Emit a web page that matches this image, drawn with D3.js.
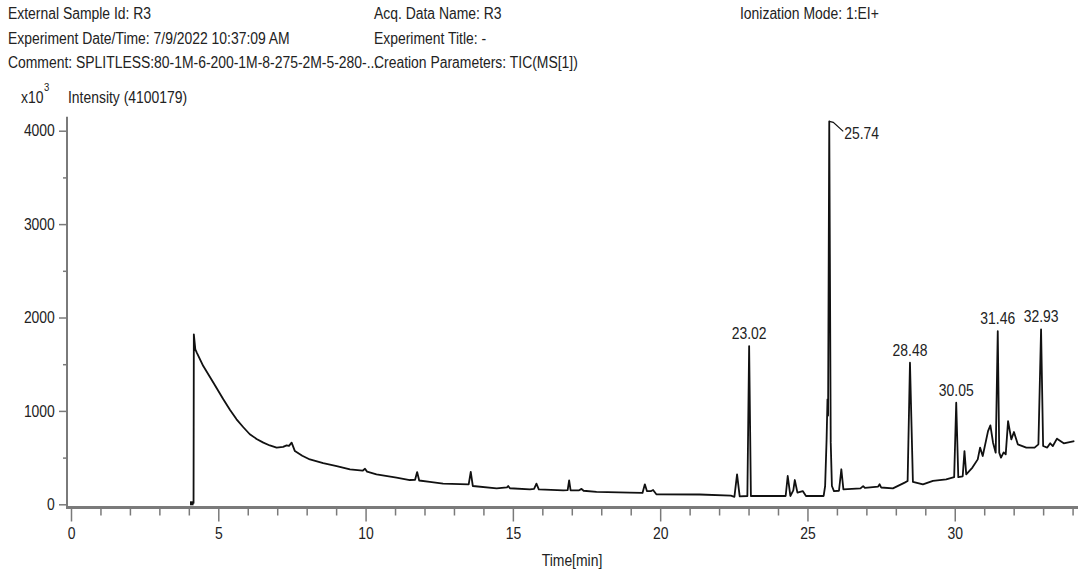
<!DOCTYPE html>
<html>
<head>
<meta charset="utf-8">
<script src="https://cdn.jsdelivr.net/npm/d3@7"></script>
<style>
  body { margin: 0; background: #fff; }
  svg text { font-family: "Liberation Sans Narrow", "Arial Narrow", "Liberation Sans", sans-serif; fill: #222; }
</style>
</head>
<body>
<svg id="chart" width="1078" height="575"></svg>
<script>
// header lines, three columns
const headerLeft = ['External Sample Id: R3', 'Experiment Date/Time: 7/9/2022 10:37:09 AM', 'Comment: SPLITLESS:80-1M-6-200-1M-8-275-2M-5-280-...'];
const headerMid = ['Acq. Data Name: R3', 'Experiment Title: -', 'Creation Parameters: TIC(MS[1])'];
const headerRight = ['Ionization Mode: 1:EI+'];

// TIC trace: time (min), intensity (x10^3)
const times = [4.04, 4.16, 4.17, 4.22, 4.27, 4.49, 4.83, 5.17, 5.40, 5.62, 5.85, 6.07, 6.30, 6.53, 6.75, 6.98, 7.2, 7.32, 7.40, 7.49, 7.60, 7.85, 8.11, 8.56, 9.02, 9.47, 9.90, 9.98, 10.05, 10.37, 11.05, 11.50, 11.68, 11.75, 11.82, 12.18, 12.63, 13.50, 13.57, 13.64, 14.45, 14.80, 14.84, 14.90, 15.58, 15.72, 15.80, 15.88, 16.71, 16.86, 16.91, 16.96, 17.25, 17.33, 17.40, 17.84, 18.97, 19.40, 19.48, 19.55, 19.68, 19.76, 19.87, 21.34, 22.40, 22.52, 22.61, 22.70, 22.96, 23.02, 23.08, 23.61, 24.26, 24.33, 24.42, 24.52, 24.57, 24.66, 24.84, 24.95, 25.55, 25.60, 25.65, 25.68, 25.70, 25.74, 25.79, 25.83, 25.90, 26.07, 26.15, 26.22, 26.80, 26.89, 26.95, 27.40, 27.45, 27.50, 27.90, 28.30, 28.40, 28.48, 28.58, 28.92, 29.26, 29.71, 29.98, 30.05, 30.12, 30.27, 30.33, 30.39, 30.60, 30.78, 30.86, 30.95, 31.13, 31.21, 31.30, 31.39, 31.46, 31.51, 31.57, 31.66, 31.73, 31.81, 31.92, 32.01, 32.14, 32.43, 32.71, 32.84, 32.93, 33.00, 33.14, 33.24, 33.33, 33.47, 33.70, 34.06];
const intensity = [15, 15, 1820, 1660, 1625, 1480, 1305, 1125, 1010, 910, 825, 750, 700, 660, 630, 607, 615, 630, 625, 660, 570, 520, 480, 440, 410, 375, 360, 380, 350, 320, 285, 260, 262, 345, 255, 239, 221, 214, 346, 196, 171, 182, 196, 172, 160, 165, 221, 160, 150, 152, 257, 150, 150, 165, 145, 132, 125, 122, 214, 142, 140, 153, 107, 105, 92, 80, 321, 85, 89, 1694, 89, 89, 89, 303, 89, 150, 260, 125, 142, 89, 89, 196, 700, 1124, 950, 4100, 663, 196, 142, 145, 375, 160, 170, 195, 175, 190, 214, 180, 170, 232, 250, 1516, 239, 214, 250, 268, 290, 1088, 290, 300, 570, 321, 393, 481, 607, 517, 784, 845, 660, 553, 1854, 553, 500, 556, 535, 891, 695, 774, 642, 607, 607, 642, 1873, 624, 607, 653, 624, 703, 653, 677];

// labelled peaks
const peakTimes = [23.02, 25.74, 28.48, 30.05, 31.46, 32.93];
const peakHeights = [1694, 4100, 1516, 1088, 1854, 1873];

const yMajor = [0, 1000, 2000, 3000, 4000];
const yMinor = [500, 1500, 2500, 3500];
const xMajor = [0, 5, 10, 15, 20, 25, 30];
const xMinor = d3.range(1, 35).filter(d => d % 5 !== 0);

const svg = d3.select('#chart');
const fontSize = 16;
const squeeze = 0.87; // narrow font look

const x = d3.scaleLinear().domain([0, 34.15]).range([71, 1077]);
const y = d3.scaleLinear().domain([0, 4150]).range([504.3, 116.7]);

function addText(g, tx, ty, str, anchor='start', size=fontSize) {
    return g.append('text')
        .attr('transform', `translate(${tx},${ty}) scale(${squeeze},1)`)
        .attr('text-anchor', anchor)
        .attr('font-size', size)
        .text(str);
}

// header text
const hdr = svg.append('g');
headerLeft.forEach((t, i) => addText(hdr, 8, 19 + i * 24.5, t));
headerMid.forEach((t, i) => addText(hdr, 374, 19 + i * 24.5, t));
headerRight.forEach((t, i) => addText(hdr, 740, 19 + i * 24.5, t));

// y unit
addText(hdr, 21, 103, 'x10');
addText(hdr, 44, 91, '3', 'start', 11);
addText(hdr, 68, 103, 'Intensity (4100179)');

const axisCol = '#7a7a7a';

// y axis
const yAxisX = 67;
svg.append('line')
    .attr('x1', yAxisX).attr('x2', yAxisX)
    .attr('y1', y(4150)).attr('y2', 508)
    .attr('stroke', axisCol).attr('stroke-width', 2);

const yAx = svg.append('g').attr('transform', `translate(${yAxisX},0)`)
    .call(d3.axisLeft(y).tickValues(yMajor).tickSize(8).tickPadding(3).tickFormat(d3.format('d')));
yAx.select('.domain').remove();
const yMin = svg.append('g').attr('transform', `translate(${yAxisX},0)`)
    .call(d3.axisLeft(y).tickValues(yMinor).tickSize(4).tickFormat(''));
yMin.select('.domain').remove();

// x axis
const xAxisY = 507.5;
svg.append('line')
    .attr('x1', yAxisX - 1).attr('x2', 1078)
    .attr('y1', xAxisY).attr('y2', xAxisY)
    .attr('stroke', axisCol).attr('stroke-width', 3);

const xAx = svg.append('g').attr('transform', `translate(0,${xAxisY + 1})`)
    .call(d3.axisBottom(x).tickValues(xMajor).tickSize(13).tickPadding(6));
xAx.select('.domain').remove();
const xMin = svg.append('g').attr('transform', `translate(0,${xAxisY + 1})`)
    .call(d3.axisBottom(x).tickValues(xMinor).tickSize(7).tickFormat(''));
xMin.select('.domain').remove();

svg.selectAll('.tick line').attr('stroke', axisCol).attr('stroke-width', 1.5);
svg.selectAll('.tick text')
    .attr('font-size', fontSize)
    .attr('font-family', '"Liberation Sans Narrow", "Arial Narrow", "Liberation Sans", sans-serif')
    .attr('fill', '#222')
    .attr('transform', `scale(${squeeze},1)`);
yAx.selectAll('.tick text').attr('x', -14);

addText(svg, 572, 566, 'Time[min]', 'middle');

// trace
const trace = times.map((t, i) => [t, intensity[i]]);
svg.append('path')
    .datum(trace)
    .attr('fill', 'none')
    .attr('stroke', '#111')
    .attr('stroke-width', 1.8)
    .attr('stroke-linejoin', 'round')
    .attr('d', d3.line().x(d => x(d[0])).y(d => y(d[1])));

// start marker (small square at injection)
svg.append('rect')
    .attr('x', x(4.04)).attr('y', y(0) - 3)
    .attr('width', x(4.16) - x(4.04)).attr('height', 4)
    .attr('fill', '#111');

// peak labels
peakTimes.forEach((t, i) => {
    const px = x(t), py = y(peakHeights[i]);
    if (peakHeights[i] > 4000) {
        // top peak: leader line to the right
        svg.append('path')
            .attr('d', `M${px},${py} L${px + 4},${py + 1} L${px + 14},${py + 10}`)
            .attr('fill', 'none').attr('stroke', '#111').attr('stroke-width', 1.2);
        addText(svg, px + 15, py + 18, t.toFixed(2));
    } else {
        addText(svg, px, py - 7, t.toFixed(2), 'middle');
    }
});
</script>
</body>
</html>
